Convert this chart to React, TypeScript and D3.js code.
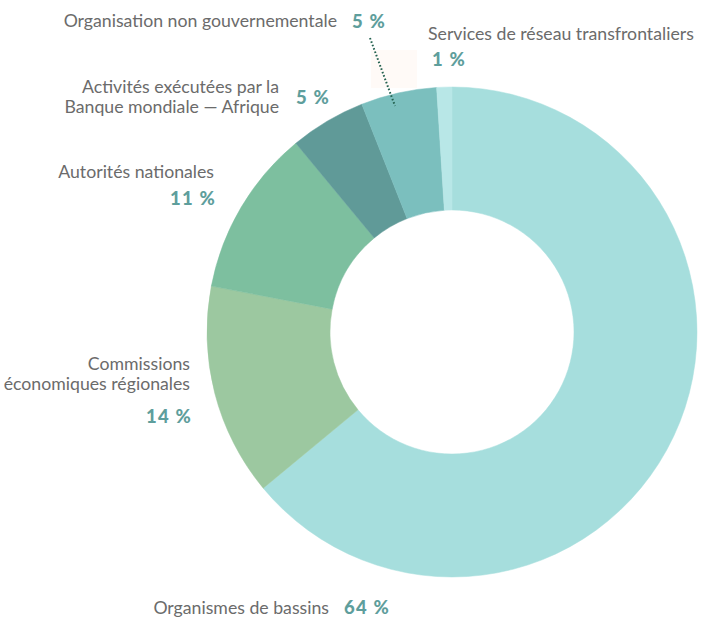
import React from "react";
import * as d3 from "d3";

const categories = [
  "Organismes de bassins",
  "Commissions économiques régionales",
  "Autorités nationales",
  "Activités exécutées par la Banque mondiale — Afrique",
  "Organisation non gouvernementale",
  "Services de réseau transfrontaliers",
];
const values = [64, 14, 11, 5, 5, 1];
const colors = ["#a6dedd", "#9cc8a0", "#7dbf9f", "#609a98", "#7bbfbe", "#b8e7e7"];

// label lines (text broken over lines like the source)
const labelLines = [
  ["Organismes de bassins"],
  ["Commissions", "économiques régionales"],
  ["Autorités nationales"],
  ["Activités exécutées par la", "Banque mondiale — Afrique"],
  ["Organisation non gouvernementale"],
  ["Services de réseau transfrontaliers"],
];

const W = 711;
const H = 619;
const cx = 452;
const cy = 332;
const outerR = 245;
const innerR = 122;

const textColor = "#6b6b6b";
const pctColor = "#5e9e9c";
const font = "Lato, 'Open Sans', sans-serif";

export default function App() {
  const pie = d3
    .pie<number>()
    .sort(null)
    .startAngle(0)
    .endAngle(2 * Math.PI)
    .value((d) => d);
  const arcs = pie(values);
  const arc = d3.arc<d3.PieArcDatum<number>>().innerRadius(innerR).outerRadius(outerR);

  const pct = (i: number) => `${values[i]} %`;
  const pctProps = { fill: pctColor, fontWeight: 900, fontSize: 18.5, letterSpacing: 1.2 };

  return (
    <svg width={W} height={H} style={{ position: "absolute", left: 0, top: 0 }}>
      <rect width={W} height={H} fill="#fff" />
      {/* faint backdrop behind the NGO leader */}
      <rect x={371} y={50} width={46} height={38} fill="#fffaf7" />
      <g transform={`translate(${cx},${cy})`}>
        {arcs.map((a, i) => (
          <path key={categories[i]} d={arc(a) || ""} fill={colors[i]} stroke={colors[i]} strokeWidth={0.5} />
        ))}
      </g>

      {/* leader for the NGO slice */}
      <line x1={370} y1={38} x2={395} y2={106} stroke="#23614f" strokeWidth={2} strokeDasharray="1.6 2" />

      <g fontFamily={font} fill={textColor} fontSize={17.7}>
        {/* Organismes de bassins */}
        <text x={329} y={614} textAnchor="end">{labelLines[0][0]}</text>
        <text x={344} y={614} {...pctProps}>{pct(0)}</text>

        {/* Commissions */}
        <text x={190} y={370} textAnchor="end">{labelLines[1][0]}</text>
        <text x={190} y={390} textAnchor="end">{labelLines[1][1]}</text>
        <text x={192} y={423} textAnchor="end" {...pctProps}>{pct(1)}</text>

        {/* Autorités */}
        <text x={214} y={178} textAnchor="end">{labelLines[2][0]}</text>
        <text x={216} y={205} textAnchor="end" {...pctProps}>{pct(2)}</text>

        {/* Activités BM */}
        <text x={279} y={93} textAnchor="end">{labelLines[3][0]}</text>
        <text x={279} y={113} textAnchor="end">{labelLines[3][1]}</text>
        <text x={296} y={104} {...pctProps}>{pct(3)}</text>

        {/* ONG */}
        <text x={337} y={27} textAnchor="end">{labelLines[4][0]}</text>
        <text x={352} y={28} {...pctProps}>{pct(4)}</text>

        {/* Services */}
        <text x={428} y={40}>{labelLines[5][0]}</text>
        <text x={432} y={66} {...pctProps}>{pct(5)}</text>
      </g>
    </svg>
  );
}
